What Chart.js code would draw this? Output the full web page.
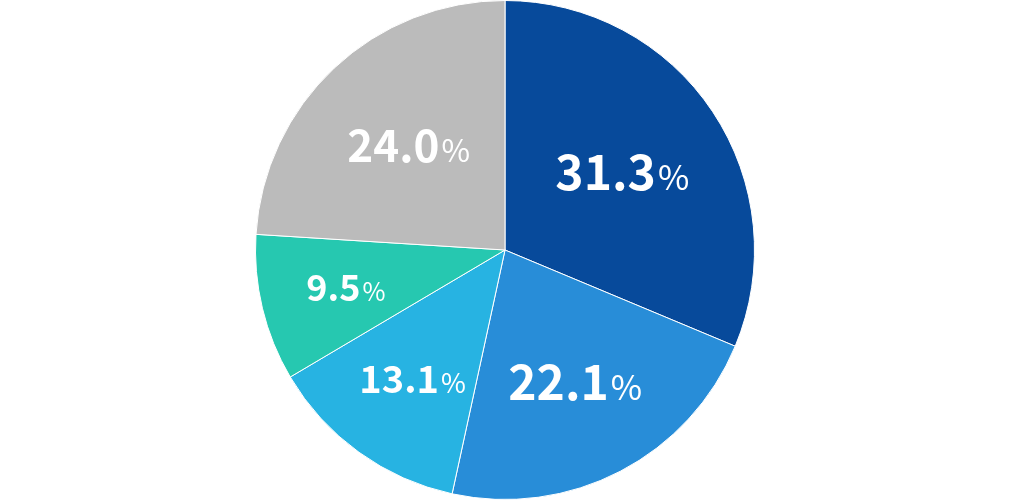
<!DOCTYPE html>
<html>
<head>
<meta charset="utf-8">
<script src="https://cdn.jsdelivr.net/npm/chart.js@4"></script>
<style>
  html, body { margin: 0; padding: 0; background: #fff; }
  #wrap { width: 1010px; height: 500px; }
</style>
</head>
<body>
<div id="wrap"><canvas id="myChart"></canvas></div>
<script>
// slice data
const labels = ['A', 'B', 'C', 'D', 'E'];
const values = [31.3, 22.1, 13.1, 9.5, 24.0];
const colors = ['#074a9b', '#288dd8', '#27b3e2', '#26c8b0', '#bbbbbb'];
// label font size per slice
const labelSizes = [48, 48, 38, 36, 44];
const labelDist = [0.56, 0.6, 0.64, 0.66, 0.57];

// draws the percentage labels on the slices
const sliceLabels = {
    id: 'sliceLabels',
    afterDatasetsDraw(chart) {
        const ctx = chart.ctx;
        const meta = chart.getDatasetMeta(0);
        meta.data.forEach((arc, i) => {
            const mid = (arc.startAngle + arc.endAngle) / 2;
            const r = arc.outerRadius * labelDist[i];
            const x = arc.x + Math.cos(mid) * r;
            const y = arc.y + Math.sin(mid) * r;
            const num = values[i].toFixed(1);
            const big = labelSizes[i];
            const small = Math.round(big * 0.7);
            ctx.save();
            ctx.fillStyle = '#fff';
            ctx.textBaseline = 'alphabetic';
            ctx.font = 'bold ' + big + 'px "Noto Sans CJK JP", "Noto Sans", sans-serif';
            const w1 = ctx.measureText(num).width;
            ctx.font = small + 'px "Noto Sans CJK JP", "Noto Sans", sans-serif';
            const w2 = ctx.measureText('%').width;
            const left = x - (w1 + w2) / 2;
            const base = y + big * 0.36;
            ctx.font = 'bold ' + big + 'px "Noto Sans CJK JP", "Noto Sans", sans-serif';
            ctx.fillText(num, left, base);
            ctx.font = small + 'px "Noto Sans CJK JP", "Noto Sans", sans-serif';
            ctx.fillText('%', left + w1 + 2, base);
            ctx.restore();
        });
    }
};

let myChart = document.querySelector('#myChart').getContext('2d');
let pieChart = new Chart(myChart, {
    type: 'pie',
    data: {
        labels: labels,
        datasets: [{
            data: values,
            backgroundColor: colors,
            borderColor: '#fff',
            borderWidth: 1
        }]
    },
    options: {
        responsive: true,
        maintainAspectRatio: false,
        animation: false,
        layout: { padding: 0 },
        plugins: {
            legend: { display: false },
            tooltip: { enabled: false }
        }
    },
    plugins: [sliceLabels]
});
</script>
</body>
</html>
